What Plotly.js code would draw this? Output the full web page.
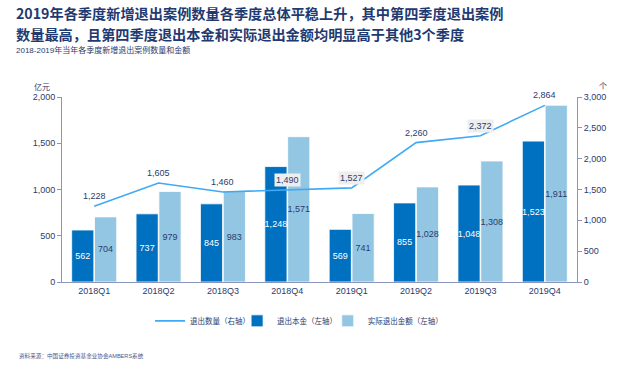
<!DOCTYPE html>
<html><head><meta charset="utf-8">
<script src="https://cdn.plot.ly/plotly-3.0.1.min.js"></script>
<style>body{margin:0;background:#fff}#c{width:642px;height:370px}</style>
</head><body><div id="c"></div>
<script>
const quarters = ['2018Q1','2018Q2','2018Q3','2018Q4','2019Q1','2019Q2','2019Q3','2019Q4'];
const exitCount = [1228,1605,1460,1490,1527,2260,2372,2864];
const principal = [562,737,845,1248,569,855,1048,1523];
const actualAmount = [704,979,983,1571,741,1028,1308,1911];
const boxedLabels = [false,false,false,true,true,false,true,false];
const titleLines = ['2019年各季度新增退出案例数量各季度总体平稳上升，其中第四季度退出案例',
                    '数量最高，且第四季度退出本金和实际退出金额均明显高于其他3个季度'];

const navy = '#2b3b6e';
const fontFam = 'Arial, "Liberation Sans", "Noto Sans CJK SC", sans-serif';
const fmt = v => v.toLocaleString('en-US');

const traces = [
  {type:'scatter', mode:'lines', name:'退出数量（右轴）', x:quarters, y:exitCount, yaxis:'y2',
   legend:'legend', line:{color:'#3fa9f5', width:1.6}, hoverinfo:'skip'},
  {type:'bar', name:'退出本金（左轴）', x:quarters, y:principal, legend:'legend2',
   marker:{color:'#0070c0', line:{color:'#ffffff', width:0.8}},
   text:principal.map(fmt), textposition:'inside', insidetextanchor:'middle', constraintext:'none',
   textfont:{color:'#ffffff', size:9, family:fontFam}, textangle:0},
  {type:'bar', name:'实际退出金额（左轴）', x:quarters, y:actualAmount, legend:'legend3',
   marker:{color:'#93c6e3', line:{color:'#ffffff', width:0.8}},
   text:actualAmount.map(fmt), textposition:'inside', insidetextanchor:'middle', constraintext:'none',
   textfont:{color:navy, size:9, family:fontFam}, textangle:0}
];

const annotations = quarters.map((q,i)=>({
  x:q, y:exitCount[i], xref:'x', yref:'y2', text:fmt(exitCount[i]),
  showarrow:false, yshift:10, font:{size:9, color:navy, family:fontFam},
  bgcolor: boxedLabels[i] ? '#eeeeee' : 'rgba(0,0,0,0)', borderpad:1
}));
annotations.push(
  {xref:'paper', yref:'paper', x:-0.093, y:1.454, xanchor:'left', yanchor:'middle',
   text:'<b>'+titleLines[0]+'</b>', showarrow:false,
   font:{size:14.2, color:'#1f3a70', family:'"Noto Sans CJK SC", sans-serif'}},
  {xref:'paper', yref:'paper', x:-0.093, y:1.341, xanchor:'left', yanchor:'middle',
   text:'<b>'+titleLines[1]+'</b>', showarrow:false,
   font:{size:14.2, color:'#1f3a70', family:'"Noto Sans CJK SC", sans-serif'}},
  {xref:'paper', yref:'paper', x:-0.039, y:1.092, xanchor:'center', text:'亿元', showarrow:false,
   font:{size:8, color:navy, family:fontFam}},
  {xref:'paper', yref:'paper', x:1.05, y:1.092, xanchor:'center', text:'个', showarrow:false,
   font:{size:8, color:navy, family:fontFam}},
  {xref:'paper', yref:'paper', x:-0.093, y:1.252, xanchor:'left', yanchor:'middle',
   text:'2018-2019年当年各季度新增退出案例数量和金额', showarrow:false,
   font:{size:8, color:navy, family:fontFam}},
  {xref:'paper', yref:'paper', x:-0.087, y:-0.4, xanchor:'left', yanchor:'middle',
   text:'资料来源：中国证券投资基金业协会AMBERS系统', showarrow:false,
   font:{size:5.6, color:'#4a5a90', family:fontFam}}
);

const legendBase = {orientation:'h', xanchor:'left', y:-0.21, yanchor:'middle', itemwidth:30,
  font:{size:7.5, color:navy, family:fontFam}, bgcolor:'rgba(0,0,0,0)'};

const layout = {
  width:642, height:370,
  margin:{l:62, r:65, t:97, b:88},
  paper_bgcolor:'#ffffff', plot_bgcolor:'#ffffff',
  font:{family:fontFam, color:navy},
  barmode:'group', bargap:0.29, bargroupgap:0.03,
  showlegend:true,
  legend:Object.assign({}, legendBase, {x:0.171}),
  legend2:Object.assign({}, legendBase, {x:0.340}),
  legend3:Object.assign({}, legendBase, {x:0.516}),
  xaxis:{type:'category', showline:true, linecolor:'#8a96bd', linewidth:1, ticks:'',
    tickfont:{size:9, color:navy}, showgrid:false, fixedrange:true},
  yaxis:{range:[0,2000], tickvals:[0,500,1000,1500,2000], ticktext:['0','500','1,000','1,500','2,000'],
    showline:true, linecolor:'#8a96bd', linewidth:1, ticks:'outside', ticklen:4, tickcolor:'#8a96bd',
    showgrid:false, zeroline:false, tickfont:{size:9, color:navy}},
  yaxis2:{range:[0,3000], overlaying:'y', side:'right',
    tickvals:[0,500,1000,1500,2000,2500,3000], ticktext:['0','500','1,000','1,500','2,000','2,500','3,000'],
    showline:true, linecolor:'#8a96bd', linewidth:1, ticks:'outside', ticklen:4, tickcolor:'#8a96bd',
    showgrid:false, zeroline:false, tickfont:{size:9, color:navy}},
  annotations:annotations
};
Plotly.newPlot('c', traces, layout, {displayModeBar:false, staticPlot:true});
</script></body></html>
